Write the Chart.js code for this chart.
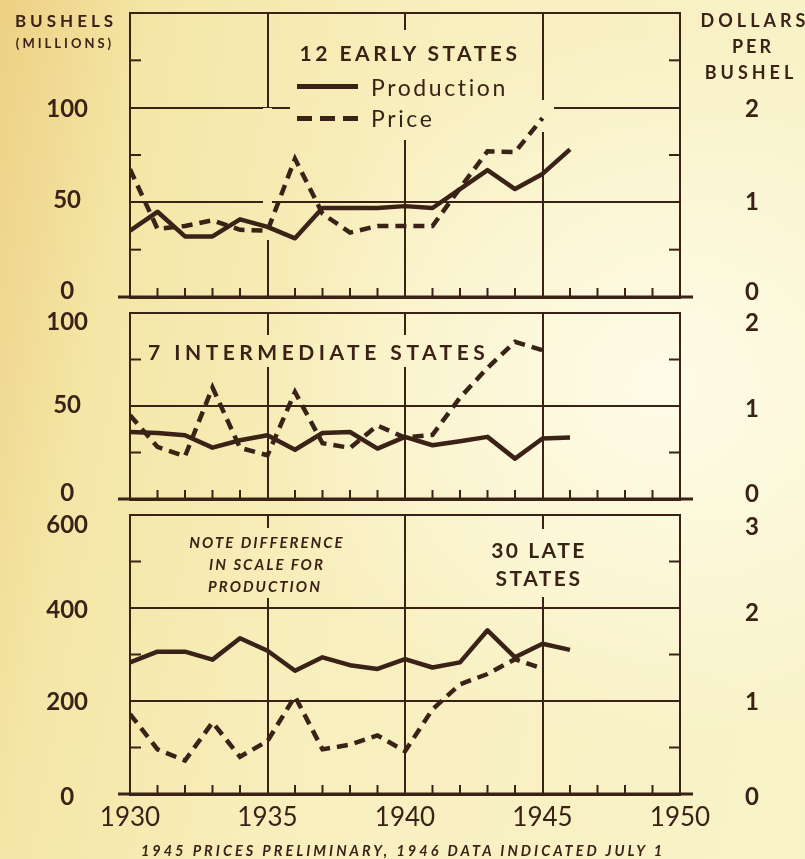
<!DOCTYPE html>
<html>
<head>
<meta charset="utf-8">
<script src="https://cdn.jsdelivr.net/npm/chart.js@4.4.0/dist/chart.umd.min.js"></script>
<style>
  html, body { margin: 0; padding: 0; }
  body {
    width: 805px; height: 859px; position: relative; overflow: hidden;
    background:
      radial-gradient(ellipse 70% 60% at 82% 45%, rgba(255,253,236,0.9), rgba(255,253,236,0) 70%),
      linear-gradient(100deg, #edd083 0%, #f4e6a6 16%, #f8efbe 45%, #f9f3ca 100%);
    font-family: Lato, "Open Sans", sans-serif;
    color: #3b2217;
  }
  canvas { position: absolute; left: 0; }
  .t { position: absolute; white-space: nowrap; line-height: 1; font-weight: 700; transform: translate(-50%, -50%); }
  .l { position: absolute; white-space: nowrap; line-height: 1; transform: translateY(-50%); }
  .it { font-style: italic; }
  .swatch { position: absolute; left: 297px; width: 61px; height: 5px; }
</style>
</head>
<body>

<canvas id="early" width="805" height="324" style="top:-7px"></canvas>
<canvas id="inter" width="805" height="226" style="top:293px"></canvas>
<canvas id="late" width="805" height="349" style="top:495px"></canvas>

<!-- axis captions -->
<div class="t" style="left:66px;top:20px;font-size:17px;letter-spacing:4px">BUSHELS</div>
<div class="t" style="left:65px;top:43px;font-size:13px;letter-spacing:3px">(MILLIONS)</div>
<div class="t" style="left:755px;top:20px;font-size:18px;letter-spacing:4px">DOLLARS</div>
<div class="t" style="left:753px;top:46px;font-size:18px;letter-spacing:3px">PER</div>
<div class="t" style="left:751px;top:72px;font-size:18px;letter-spacing:4px">BUSHEL</div>

<!-- panel 1 heading + legend -->
<div class="t" style="left:410px;top:52px;font-size:21px;letter-spacing:3.5px">12 EARLY STATES</div>
<div class="swatch" style="top:84px;background:#3b2217"></div>
<div class="swatch" style="top:116px;background:repeating-linear-gradient(90deg,#3b2217 0 15px,transparent 15px 23px)"></div>
<div class="l" style="left:371px;top:87px;font-size:23px;letter-spacing:2.6px">Production</div>
<div class="l" style="left:371px;top:118px;font-size:23px;letter-spacing:2.6px">Price</div>

<!-- panel 2 heading -->
<div class="l" style="left:148px;top:351px;font-size:21px;font-weight:700;letter-spacing:4.5px">7 INTERMEDIATE STATES</div>

<!-- panel 3 notes -->
<div class="t it" style="left:267px;top:542px;font-size:15px;letter-spacing:2px">NOTE DIFFERENCE</div>
<div class="t it" style="left:267px;top:564px;font-size:15px;letter-spacing:2px">IN SCALE FOR</div>
<div class="t it" style="left:265px;top:586px;font-size:15px;letter-spacing:2px">PRODUCTION</div>
<div class="t" style="left:539px;top:549px;font-size:21px;letter-spacing:2.5px">30 LATE</div>
<div class="t" style="left:539px;top:577px;font-size:21px;letter-spacing:2.5px">STATES</div>

<div class="t it" style="left:403px;top:851px;font-size:14.5px;letter-spacing:3px">1945 PRICES PRELIMINARY, 1946 DATA INDICATED JULY 1</div>

<script>
'use strict';

/* ── Data ────────────────────────────────────────────────── */
const years = [1930, 1931, 1932, 1933, 1934, 1935, 1936, 1937, 1938,
               1939, 1940, 1941, 1942, 1943, 1944, 1945, 1946];
const yearLabels = [1930, 1935, 1940, 1945, 1950];

// 12 early states
const earlyProduction = [35, 45, 32, 32, 41, 37, 31, 47, 47, 47, 48, 47, 57, 67, 57, 65, 78];
const earlyPrice      = [1.35, 0.72, 0.75, 0.81, 0.71, 0.70, 1.46, 0.88, 0.68, 0.75, 0.75, 0.75, 1.15, 1.54, 1.53, 1.89];
const earlyLeftTicks  = [0, 50, 100];
const earlyRightTicks = [0, 1, 2];

// 7 intermediate states
const interProduction = [36, 35.5, 34.3, 27.6, 31.6, 34.3, 26.5, 35.5, 36, 27.1, 33.4, 28.9, 31, 33.4, 21.7, 32.5, 33];
const interPrice      = [0.90, 0.56, 0.46, 1.20, 0.55, 0.47, 1.15, 0.60, 0.55, 0.79, 0.66, 0.69, 1.09, 1.41, 1.69, 1.60];
const interLeftTicks  = [0, 50, 100];
const interRightTicks = [0, 1, 2];

// 30 late states
const lateProduction = [283, 306, 306, 289, 335, 308, 265, 294, 277, 269, 290, 272, 283, 352, 294, 323, 310];
const latePrice      = [0.86, 0.48, 0.36, 0.77, 0.40, 0.57, 1.05, 0.48, 0.53, 0.63, 0.46, 0.91, 1.18, 1.29, 1.45, 1.35];
const lateLeftTicks  = [0, 200, 400, 600];
const lateRightTicks = [0, 1, 2, 3];

/* ── Style ───────────────────────────────────────────────── */
const INK = '#3b2217';
const FONT = 'Lato, "Open Sans", sans-serif';
const PAD_TOP = 20;

/* gridline breaks behind printed text (in data units), like the original plate */
const paperGaps = {
  id: 'paperGaps',
  beforeDatasetsDraw(chart, args, opts) {
    const { ctx, scales: { x, y } } = chart;
    for (const g of (opts.gaps || [])) {
      const x0 = x.getPixelForValue(g.x[0]), x1 = x.getPixelForValue(g.x[1]);
      const y0 = y.getPixelForValue(g.y[1]), y1 = y.getPixelForValue(g.y[0]);
      ctx.clearRect(x0, y0, x1 - x0, y1 - y0);
    }
  }
};

/* the printed tick numbers sit a little off their rules near the frame edges */
const labelNudge = {
  id: 'labelNudge',
  beforeDraw(chart, args, opts) {
    for (const id of Object.keys(opts)) {
      const scale = chart.scales[id];
      if (!scale || typeof opts[id] !== 'object') continue;
      for (const item of scale.getLabelItems(chart.chartArea)) {
        const d = opts[id][item.label];
        if (d) item.options.translation[1] += d;
      }
    }
  }
};

/* small inward ticks on the frame + the heavy base rule */
const innerTicks = {
  id: 'innerTicks',
  afterDraw(chart, args, opts) {
    const { ctx, chartArea: a, scales: { x, y } } = chart;
    const seg = (x0, y0, x1, y1) => { ctx.beginPath(); ctx.moveTo(x0, y0); ctx.lineTo(x1, y1); ctx.stroke(); };
    ctx.save();
    ctx.strokeStyle = INK;
    ctx.lineWidth = 2;
    for (let yr = 1931; yr < 1950; yr++) {
      if (yr % 5 === 0) continue;
      const px = x.getPixelForValue(yr);
      seg(px, a.bottom, px, a.bottom - 9);
    }
    for (const v of opts.minor) {
      const py = y.getPixelForValue(v);
      seg(a.left, py, a.left + 11, py);
      seg(a.right, py, a.right - 11, py);
    }
    ctx.lineWidth = 3;
    seg(a.left - 12, a.bottom, a.right + 13, a.bottom);
    ctx.restore();
  }
};

// keep the label offset from inflating the plot's top/bottom padding
function fixWidth(w) {
  return s => { s.width = w; s.paddingTop = 0; s.paddingBottom = 0; };
}

function makePanel(id, p) {
  const prod  = years.map((yr, i) => ({ x: yr, y: p.production[i] }));
  const price = p.price.map((v, i) => ({ x: years[i], y: v }));
  return new Chart(document.getElementById(id), {
    type: 'line',
    data: {
      datasets: [
        { label: 'Production', data: prod, yAxisID: 'y',
          borderColor: INK, borderWidth: 4.5, pointRadius: 0, tension: 0,
          borderJoinStyle: 'round' },
        { label: 'Price', data: price, yAxisID: 'y2',
          borderColor: INK, borderWidth: 4.5, pointRadius: 0, tension: 0,
          borderDash: [11, 7] },
      ],
    },
    options: {
      responsive: false,
      animation: false,
      events: [],
      layout: { padding: { top: PAD_TOP, left: 0, right: 0, bottom: 0 } },
      plugins: {
        legend: { display: false },
        tooltip: { enabled: false },
        paperGaps: { gaps: p.gaps },
        innerTicks: { minor: p.minor },
        labelNudge: p.nudge,
      },
      scales: {
        x: {
          type: 'linear', min: 1930, max: 1950,
          afterFit: s => { s.height = p.showYears ? 50 : 20; s.paddingLeft = 0; s.paddingRight = 0; },
          grid: { color: INK, lineWidth: 2, drawTicks: false },
          border: { color: INK, width: 3 },
          ticks: {
            display: p.showYears, stepSize: 5, padding: 8,
            color: INK, font: { family: FONT, size: 26 },
            callback: v => yearLabels.includes(v) ? String(v) : '',
          },
        },
        y: {
          position: 'left', min: 0, max: p.leftMax,
          afterFit: fixWidth(130),
          grid: { color: INK, lineWidth: 2, drawTicks: false },
          border: { color: INK, width: 2 },
          ticks: {
            stepSize: p.leftStep, padding: 42, crossAlign: 'center',
            color: INK, font: { family: FONT, size: 24, weight: 'bold' },
            callback: v => p.leftTicks.includes(v) ? String(v) : '',
          },
        },
        y2: {
          position: 'right', min: 0, max: p.rightMax,
          afterFit: fixWidth(125),
          grid: { display: false, drawTicks: false },
          border: { color: INK, width: 2 },
          ticks: {
            stepSize: 1, padding: 65, crossAlign: 'center',
            color: INK, font: { family: FONT, size: 24, weight: 'bold' },
            callback: v => p.rightTicks.includes(v) ? String(v) : '',
          },
        },
      },
    },
    plugins: [paperGaps, labelNudge, innerTicks],
  });
}

makePanel('early', {
  production: earlyProduction, price: earlyPrice,
  leftTicks: earlyLeftTicks, rightTicks: earlyRightTicks,
  leftMax: 150, leftStep: 50, rightMax: 3, minor: [25, 75, 125],
  showYears: false,
  nudge: { y: { '0': -6, '50': -2, '100': 2 }, y2: { '0': -5, '1': 0, '2': 2 } },
  gaps: [ { x: [1935.8, 1944.4], y: [83, 141] }, { x: [1934.85, 1935.15], y: [30, 100] },
          { x: [1944.4, 1945.4], y: [87, 104] } ],
});

makePanel('inter', {
  production: interProduction, price: interPrice,
  leftTicks: interLeftTicks, rightTicks: interRightTicks,
  leftMax: 100, leftStep: 50, rightMax: 2, minor: [25, 75],
  showYears: false,
  nudge: { y: { '0': -6, '50': -1, '100': 9 }, y2: { '0': -5, '1': 3, '2': 10 } },
  gaps: [ { x: [1930.4, 1942.8], y: [71, 88] } ],
});

makePanel('late', {
  production: lateProduction, price: latePrice,
  leftTicks: lateLeftTicks, rightTicks: lateRightTicks,
  leftMax: 600, leftStep: 200, rightMax: 3, minor: [100, 300, 500],
  showYears: true,
  nudge: { y: { '0': 3, '200': 1, '400': 2, '600': 10 }, y2: { '0': 3, '1': 1, '2': 5, '3': 12 } },
  gaps: [ { x: [1931.5, 1938.4], y: [421, 572] }, { x: [1942.7, 1947.0], y: [423, 570] } ],
});
</script>
</body>
</html>
